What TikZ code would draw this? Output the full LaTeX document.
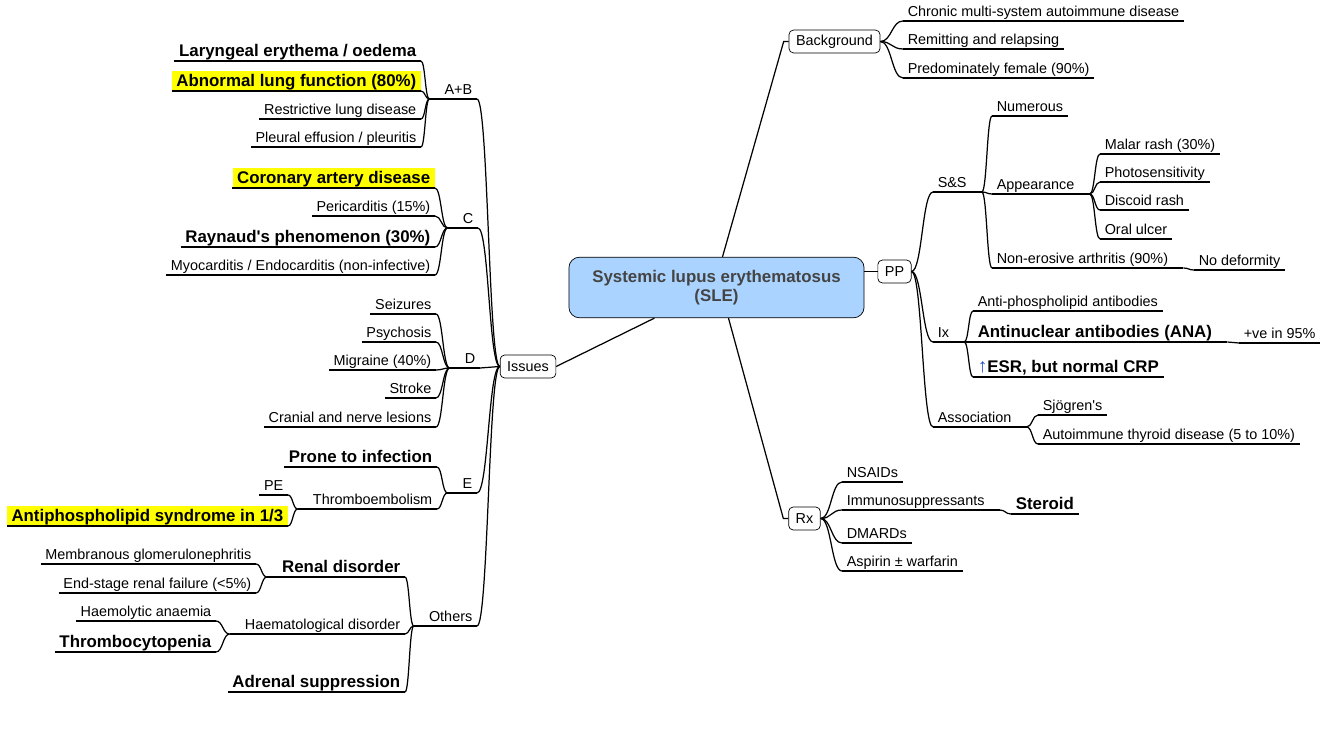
\documentclass[tikz,border=0pt]{standalone}
\usepackage{fontspec}
\setmainfont{Liberation Sans}
\usepackage{tikz}
\usetikzlibrary{positioning,calc}
\definecolor{RootFill}{RGB}{170,212,255}
\definecolor{RootText}{RGB}{68,68,68}
\definecolor{MarkYellow}{RGB}{255,255,0}
\definecolor{UpBlue}{RGB}{30,80,200}

\begin{document}
\begin{tikzpicture}[
x=0.02cm,y=-0.02cm,
conn/.style={line width=0.7pt,draw=black},
leaf/.style={inner xsep=2.5pt,inner ysep=0.6pt,text height=.8em,text depth=.2em,font=\fontsize{8.2}{10}\selectfont},
big/.style={leaf,font=\bfseries\fontsize{9.6}{11}\selectfont},
hl/.style={fill=MarkYellow},
lp/.style={execute at begin node={\hspace{6pt}}},
rp/.style={execute at end node={\hspace{6pt}}},
lnode/.style={anchor=south east},
rnode/.style={anchor=south west},
box/.style={draw,rounded corners=2.5pt,fill=white,inner xsep=4pt,inner ysep=0pt,minimum height=13pt,font=\fontsize{8.2}{10}\selectfont},
root/.style={draw,rounded corners=6pt,fill=RootFill,text=RootText,minimum width=168pt,minimum height=34.5pt,align=center,font=\bfseries\fontsize{9.6}{11}\selectfont},
branch/.style={to path={let \p1=(\tikztostart),\p2=(\tikztotarget) in .. controls ({(\x1+\x2)/2},\y1) and ({(\x1+\x2)/2},\y2) .. (\tikztotarget)}}
]
\useasboundingbox (0,-1) rectangle (1325,745);

\node[root] (sle) at (716.5,286.5) {Systemic lupus erythematosus\\(SLE)};
\node[box] (issues) at (528,365.5) {Issues};
\node[box] (bg) at (834.5,40.5) {Background};
\node[box] (pp) at (894.5,270.5) {PP};
\node[box] (rx) at (804.5,517.5) {Rx};

% Issues side
\node[leaf,lp,lnode] (airway) at (477,98) {A+B};
\node[big,lnode] (airway1) at (421,60) {Laryngeal erythema / oedema};
\node[big,hl,lnode] (airway2) at (421,90) {Abnormal lung function (80\%)};
\node[leaf,lnode] (airway3) at (421,118) {Restrictive lung disease};
\node[leaf,lnode] (airway4) at (421,146) {Pleural effusion / pleuritis};

\node[leaf,lp,lnode] (circ) at (478,227) {C};
\node[big,hl,lnode] (circ1) at (435,187) {Coronary artery disease};
\node[leaf,lnode] (circ2) at (435,215) {Pericarditis (15\%)};
\node[big,lnode] (circ3) at (435,246) {Raynaud\textquotesingle s phenomenon (30\%)};
\node[leaf,lnode] (circ4) at (435,274) {Myocarditis / Endocarditis (non-infective)};

\node[leaf,lp,lnode] (disab) at (480,367) {D};
\node[leaf,lnode] (disab1) at (436,313) {Seizures};
\node[leaf,lnode] (disab2) at (436,341) {Psychosis};
\node[leaf,lnode] (disab3) at (436,369) {Migraine (40\%)};
\node[leaf,lnode] (disab4) at (436,397) {Stroke};
\node[leaf,lnode] (disab5) at (436,426) {Cranial and nerve lesions};

\node[leaf,lp,lnode] (expo) at (477,492) {E};
\node[big,lnode] (expo1) at (437,466) {Prone to infection};
\node[leaf,lp,lnode] (expo2) at (437,508) {Thromboembolism};
\node[leaf,lnode] (expo21) at (288,494) {PE};
\node[big,hl,lnode] (expo22) at (288,525) {Antiphospholipid syndrome in 1/3};

\node[leaf,lp,lnode] (others) at (477,625) {Others};
\node[big,lp,lnode] (others1) at (405,576) {Renal disorder};
\node[leaf,lnode] (others11) at (256,563) {Membranous glomerulonephritis};
\node[leaf,lnode] (others12) at (256,592) {End-stage renal failure (<5\%)};
\node[leaf,lp,lnode] (others2) at (405,633) {Haematological disorder};
\node[leaf,lnode] (others21) at (216,620) {Haemolytic anaemia};
\node[big,lnode] (others22) at (216,651) {Thrombocytopenia};
\node[big,lnode] (others3) at (405,691) {Adrenal suppression};

% Background, PP, Rx side
\node[leaf,rnode] (bg1) at (903,20) {Chronic multi-system autoimmune disease};
\node[leaf,rnode] (bg2) at (903,48) {Remitting and relapsing};
\node[leaf,rnode] (bg3) at (903,77) {Predominately female (90\%)};

\node[leaf,rp,rnode] (sns) at (933,191) {S\&S};
\node[leaf,rnode] (sns1) at (992,115) {Numerous};
\node[leaf,rp,rnode] (sns2) at (992,193) {Appearance};
\node[leaf,rnode] (sns21) at (1100,153) {Malar rash (30\%)};
\node[leaf,rnode] (sns22) at (1100,181) {Photosensitivity};
\node[leaf,rnode] (sns23) at (1100,209) {Discoid rash};
\node[leaf,rnode] (sns24) at (1100,238) {Oral ulcer};
\node[leaf,rp,rnode] (sns3) at (992,267) {Non-erosive arthritis (90\%)};
\node[leaf,rnode] (sns31) at (1194,269) {No deformity};

\node[leaf,rp,rnode] (ix) at (933,341) {Ix};
\node[leaf,rnode] (ix1) at (973,310) {Anti-phospholipid antibodies};
\node[big,rp,rnode] (ix2) at (973,341) {Antinuclear antibodies (ANA)};
\node[leaf,rnode] (ix21) at (1239,342) {+ve in 95\%};
\node[big,rnode] (ix3) at (973,376) {\textcolor{UpBlue}{\mdseries\fontsize{11}{11}\selectfont ↑}ESR, but normal CRP};

\node[leaf,rp,rnode] (assoc) at (933,426) {Association};
\node[leaf,rnode] (assoc1) at (1038,414) {Sjögren\textquotesingle s};
\node[leaf,rnode] (assoc2) at (1038,443) {Autoimmune thyroid disease (5 to 10\%)};

\node[leaf,rnode] (rx1) at (842,481) {NSAIDs};
\node[leaf,rp,rnode] (rx2) at (842,509) {Immunosuppressants};
\node[big,rnode] (rx21) at (1011,513) {Steroid};
\node[leaf,rnode] (rx3) at (842,542) {DMARDs};
\node[leaf,rnode] (rx4) at (842,570) {Aspirin ± warfarin};

% underlines
\foreach \n in {airway,airway1,airway2,airway3,airway4,circ,circ1,circ2,circ3,circ4,
  disab,disab1,disab2,disab3,disab4,disab5,expo,expo1,expo2,expo21,expo22,
  others,others1,others11,others12,others2,others21,others22,others3,
  bg1,bg2,bg3,sns,sns1,sns2,sns21,sns22,sns23,sns24,sns3,sns31,
  ix,ix1,ix2,ix21,ix3,assoc,assoc1,assoc2,rx1,rx2,rx21,rx3,rx4}
  \draw[conn] (\n.south west) -- (\n.south east);

% root edges
\draw[conn] ($(sle.north)+(6,0)$) -- ($(bg.west)+(-5,0)$) -- (bg.west);
\draw[conn] ($(sle.south)+(12,0)$) -- ($(rx.west)+(-5,0)$) -- (rx.west);
\draw[conn] ($(sle.south west)!.29!(sle.south east)$) -- (issues.east);
\draw[conn] (sle.east |- pp.west) -- (pp.west);

% left branches
\foreach \dst in {airway,circ,disab,expo,others}
  \draw[conn] (issues.west) to[branch] (\dst.south east);
\foreach \src/\dst in {airway/airway1,airway/airway2,airway/airway3,airway/airway4,
  circ/circ1,circ/circ2,circ/circ3,circ/circ4,
  disab/disab1,disab/disab2,disab/disab3,disab/disab4,disab/disab5,
  expo/expo1,expo/expo2,expo2/expo21,expo2/expo22,
  others/others1,others/others2,others/others3,others1/others11,others1/others12,
  others2/others21,others2/others22}
  \draw[conn] (\src.south west) to[branch] (\dst.south east);

% right branches
\foreach \src/\dst in {bg/bg1,bg/bg2,bg/bg3,pp/sns,pp/ix,pp/assoc,rx/rx1,rx/rx2,rx/rx3,rx/rx4}
  \draw[conn] (\src.east) to[branch] (\dst.south west);
\foreach \src/\dst in {sns/sns1,sns/sns2,sns/sns3,sns2/sns21,sns2/sns22,sns2/sns23,sns2/sns24,
  sns3/sns31,ix/ix1,ix/ix2,ix/ix3,ix2/ix21,assoc/assoc1,assoc/assoc2,rx2/rx21}
  \draw[conn] (\src.south east) to[branch] (\dst.south west);
\end{tikzpicture}
\end{document}
